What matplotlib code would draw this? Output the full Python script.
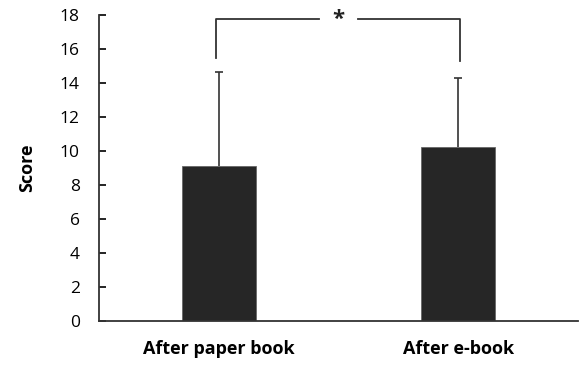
import numpy as np
import matplotlib
matplotlib.use("Agg")
from matplotlib import pyplot as plt

categories = ["After paper book", "After e-book"]
means = [9.1, 10.25]
errors = [5.55, 4.05]
yticks = [0, 2, 4, 6, 8, 10, 12, 14, 16, 18]

plt.rcParams['font.family'] = ['Open Sans', 'DejaVu Sans']

fig = plt.figure(figsize=(5.83, 3.65), dpi=100)
ax = fig.add_axes([0.170, 0.1205, 0.821, 0.8385])

x = np.arange(len(categories))
ax.bar(x, means, width=0.31, color='#262626', edgecolor='#666666', linewidth=0.6, zorder=2)
eb = ax.errorbar(x, means, yerr=[np.zeros(len(means)), errors], fmt='none',
                 ecolor='#333333', elinewidth=1.2, capsize=3, capthick=1.2, zorder=1)
# only the upper cap is wanted
eb[1][0].set_visible(False)

# significance bracket
top = 17.75
ax.plot([x[0] - 0.01, x[0] - 0.01, 0.42], [15.45, top, top], color='#333333', lw=1.3, clip_on=False)
ax.plot([0.58, x[1] + 0.01, x[1] + 0.01], [top, top, 15.3], color='#333333', lw=1.3, clip_on=False)
ax.text(0.5, top, "*", ha='center', va='center', fontsize=16, fontweight='bold', color='#222222')

ax.set_xlim(-0.5, 1.5)
ax.set_ylim(0, 18)
ax.set_yticks(yticks)
ax.set_xticks(x)
ax.set_xticklabels(categories, fontsize=13, fontweight='bold')
ax.tick_params(axis='x', length=0, pad=14)
ax.tick_params(axis='y', labelsize=12.5, length=5, width=1.2, direction='in', pad=14)
ax.set_ylabel("Score", fontsize=13, fontweight='bold', labelpad=17)

for s in ['top', 'right']:
    ax.spines[s].set_visible(False)
for s in ['left', 'bottom']:
    ax.spines[s].set_linewidth(1.3)
    ax.spines[s].set_color('#333333')

fig.savefig("out.png", dpi=100)
